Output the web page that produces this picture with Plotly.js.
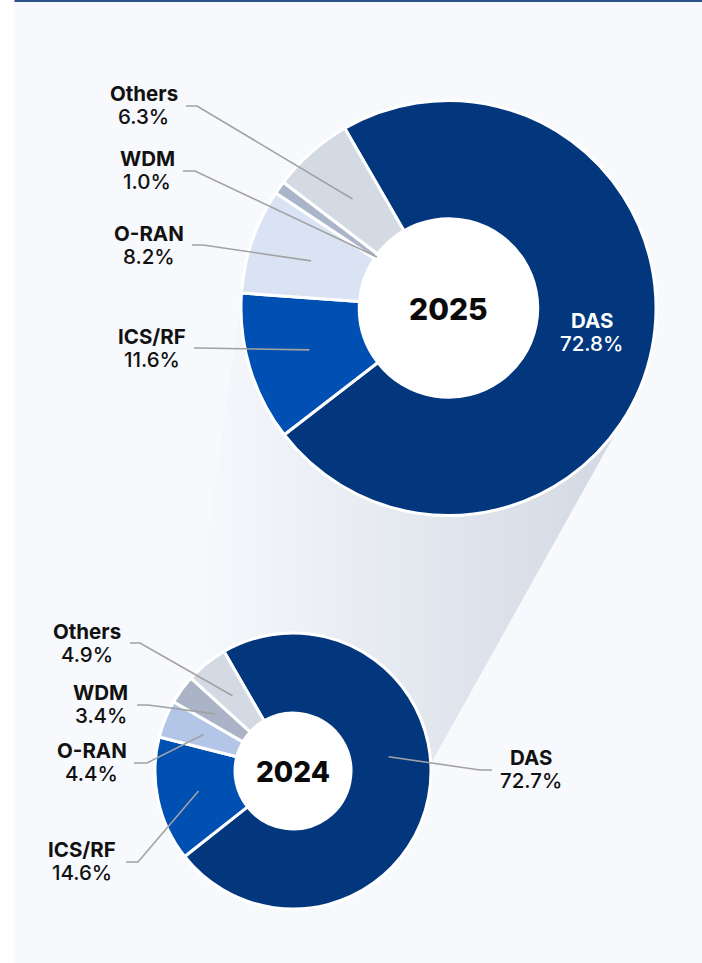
<!DOCTYPE html>
<html><head><meta charset="utf-8">
<script src="https://cdn.plot.ly/plotly-3.0.1.min.js"></script>
<style>html,body{margin:0;padding:0;background:#fff}#chart{width:702px;height:963px}</style>
</head><body><div id="chart"></div>
<script>
// ---- data ----
const categories = ['DAS', 'ICS/RF', 'O-RAN', 'WDM', 'Others'];
const values2025 = [72.8, 11.6, 8.2, 1.0, 6.3];
const values2024 = [72.7, 14.6, 4.4, 3.4, 4.9];
const yearLabels = ['2025', '2024'];
const colors2025 = ['#02377e', '#0050b4', '#dae3f3', '#aab5ca', '#d4dae4'];
const colors2024 = ['#02377e', '#0050b4', '#b3c6e8', '#aab4c6', '#d4dae4'];

// ---- layout geometry (pixels) ----
const W = 702, H = 963;
const ROT = -30;
const donuts = [
  {cx: 448.5, cy: 308, r: 207.5, hole: 0.43, values: values2025, colors: colors2025, year: yearLabels[0], yearSize: 30},
  {cx: 293, cy: 771, r: 138, hole: 0.42, values: values2024, colors: colors2024, year: yearLabels[1], yearSize: 28}
];
const labelLayouts = [
  [
    {inside: true, x: 591.5, y1: 320, y2: 343},
    {x: 152, y1: 336, y2: 359, sx: 194, ex: 199, ly: 348, rf: 0.70},
    {x: 149, y1: 233, y2: 256, sx: 192, ex: 203, ly: 245, rf: 0.70},
    {x: 147, y1: 158, y2: 181, sx: 183, ex: 195, ly: 171, rf: 0.424},
    {x: 143.5, y1: 93.5, y2: 116.5, sx: 186, ex: 197, ly: 106, rf: 0.70}
  ],
  [
    {x: 531, y1: 757, y2: 780, sx: 492, ex: 480, ly: 770, rf: 0.70, ang: 81.5},
    {x: 82.3, y1: 849.5, y2: 872.5, sx: 126, ex: 138, ly: 862, rf: 0.70},
    {x: 91.5, y1: 750, y2: 773, sx: 134, ex: 147, ly: 763, rf: 0.70},
    {x: 100.5, y1: 692, y2: 715, sx: 137, ex: 148, ly: 705, rf: 0.70},
    {x: 87, y1: 631, y2: 654, sx: 130, ex: 140, ly: 643, rf: 0.70}
  ]
];
const cone = {a1from: 124, a1to: 273, a2from: 310, a2to: 447};

const rad = Math.PI / 180;
function pt(d, ang, rr) { return [d.cx + rr * Math.sin(ang * rad), d.cy - rr * Math.cos(ang * rad)]; }
function midAngles(vals) {
  const tot = vals.reduce((a, b) => a + b, 0);
  let cur = ROT; const out = [];
  vals.forEach(v => { const span = v / tot * 360; out.push(cur + span / 2); cur += span; });
  return out;
}

// ---- cone polygon ----
const coneX = [], coneY = [];
for (let a = cone.a1from; a <= cone.a1to; a += 1) { const p = pt(donuts[0], a, donuts[0].r); coneX.push(p[0]); coneY.push(p[1]); }
for (let a = cone.a2from; a <= cone.a2to; a += 1) { const p = pt(donuts[1], a, donuts[1].r); coneX.push(p[0]); coneY.push(p[1]); }
coneX.push(coneX[0]); coneY.push(coneY[0]);

const traces = [{
  type: 'scatter', x: coneX, y: coneY, mode: 'lines', fill: 'toself',
  line: {width: 0, color: 'rgba(0,0,0,0)'},
  fillgradient: {type: 'horizontal', start: 190, stop: 625,
    colorscale: [[0, 'rgba(247,249,253,1)'], [1, '#d2d8e2']]},
  hoverinfo: 'skip', showlegend: false
}];

const shapes = [
  {type: 'rect', xref: 'x', yref: 'y', x0: 14.5, x1: W, y0: 0, y1: H, fillcolor: '#f7f9fd', line: {width: 0}, layer: 'below'},
  {type: 'rect', xref: 'x', yref: 'y', x0: 14.5, x1: W, y0: 0, y1: 2, fillcolor: '#2f5189', line: {width: 0}, layer: 'below'}
];
const annotations = [];
const F = 'Inter, "Noto Sans", sans-serif';
const FS = 20.5;

donuts.forEach((d, di) => {
  traces.push({
    type: 'pie', values: d.values, labels: categories, sort: false, direction: 'clockwise',
    rotation: ROT, hole: d.hole, textinfo: 'none', hoverinfo: 'none', showlegend: false,
    marker: {colors: d.colors, line: {color: '#ffffff', width: 3}},
    domain: {x: [(d.cx - d.r) / W, (d.cx + d.r) / W], y: [1 - (d.cy + d.r) / H, 1 - (d.cy - d.r) / H]}
  });
  const rh = d.r * d.hole;
  shapes.push({type: 'circle', xref: 'x', yref: 'y', x0: d.cx - rh, x1: d.cx + rh, y0: d.cy - rh, y1: d.cy + rh,
    fillcolor: '#ffffff', line: {width: 0}, layer: 'below'});
  annotations.push({xref: 'x', yref: 'y', x: d.cx, y: d.cy + 1, text: d.year, showarrow: false,
    xanchor: 'center', yanchor: 'middle', font: {family: F, size: d.yearSize, color: '#0a0a0a', weight: 800}});
  const mids = midAngles(d.values);
  categories.forEach((c, i) => {
    const L = labelLayouts[di][i];
    const col = L.inside ? '#ffffff' : '#111111';
    annotations.push({xref: 'x', yref: 'y', x: L.x, y: L.y1, text: c, showarrow: false,
      xanchor: 'center', yanchor: 'middle', font: {family: F, size: FS, color: col, weight: 700}});
    annotations.push({xref: 'x', yref: 'y', x: L.x, y: L.y2, text: d.values[i].toFixed(1) + '%', showarrow: false,
      xanchor: 'center', yanchor: 'middle', font: {family: F, size: FS, color: col, weight: 500}});
    if (!L.inside) {
      const ang = (L.ang !== undefined) ? L.ang : mids[i];
      const e = pt(d, ang, d.r * L.rf);
      shapes.push({type: 'path', xref: 'x', yref: 'y', layer: 'above',
        path: `M${L.sx},${L.ly} L${L.ex},${L.ly} L${e[0]},${e[1]}`,
        line: {color: '#a2a2a2', width: 1.6}});
    }
  });
});

const layout = {
  width: W, height: H, margin: {l: 0, r: 0, t: 0, b: 0},
  paper_bgcolor: '#ffffff', plot_bgcolor: 'rgba(0,0,0,0)',
  xaxis: {range: [0, W], visible: false, fixedrange: true},
  yaxis: {range: [H, 0], visible: false, fixedrange: true},
  showlegend: false, shapes: shapes, annotations: annotations
};
Plotly.newPlot('chart', traces, layout, {staticPlot: true, displayModeBar: false});
</script></body></html>
